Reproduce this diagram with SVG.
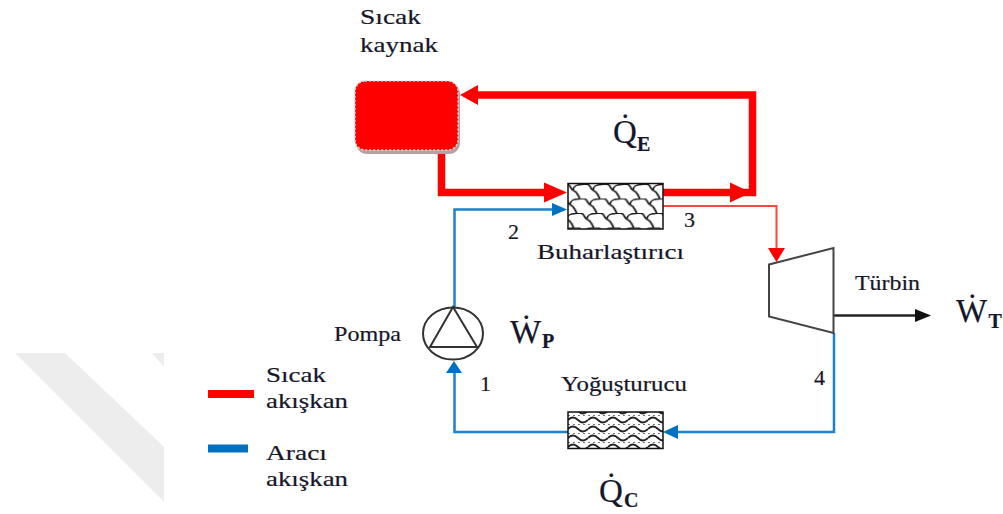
<svg xmlns="http://www.w3.org/2000/svg" width="1003" height="514" viewBox="0 0 1003 514">
<style>
text{font-family:"Liberation Serif","Times New Roman",serif;fill:#16162a;font-size:22px;stroke:#16162a;stroke-width:.2}
.q{font-size:33px}
.w{font-size:33px}
.s{font-size:20px;font-weight:bold}
.hot{fill:none;stroke:#f00;stroke-width:7.500}
.thin{fill:none;stroke:#f44;stroke-width:2}
.blue{fill:none;stroke:#1c80cc;stroke-width:2.500}
.hd{fill:#f00}
.bh{fill:#0070c0}
.eq{fill:none;stroke:#333;stroke-width:2}
</style>
<defs>
<pattern id="scale" width="20" height="14.500" patternUnits="userSpaceOnUse" patternTransform="translate(568 184) skewX(-12)">
<path d="M-2 0c5 0 5 5 9 6.500c4 1 5 5 8 8M18 0c5 0 5 5 9 6.500M-13 6.500c4 1 5 5 8 8M7 6.500c-1.500-2 0-5 3-5.500c3-.500 5-.500 8-1M27 6.500c-1.500-2 0-5 3-5.500M-13 6.500c-1.500-2 0-5 3-5.500c3-.500 5-.500 8-1" fill="none" stroke="#151515" stroke-width="1.600"/>
</pattern>
<pattern id="wave" width="20" height="9" patternUnits="userSpaceOnUse" patternTransform="translate(568 415)">
<path d="M0 5q5-5 10 0t10 0" fill="none" stroke="#222" stroke-width="1.800"/>
<path d="M0 0.500h20" fill="none" stroke="#777" stroke-width="1.200" stroke-dasharray="2 3"/>
</pattern>
</defs>
<g id="watermark" fill="#ededed" stroke="none">
<polygon points="15,353 65,353 164,447 164,502"/>
<polygon points="152,353 164,353 164,367"/>
</g>
<g id="connectors">
<path class="hot" d="M441.500 150V192.500H546"/>
<polygon class="hd" points="567,192.500 544,182.500 544,202.500"/>
<path class="hot" d="M663 192.500H752.500V95H476"/>
<polygon class="hd" points="751,192.500 730,182.500 730,202.500"/>
<polygon class="hd" points="460,95 478,85 478,105"/>
<path class="thin" d="M663 206H776.500V250"/>
<polygon class="hd" points="776.500,262 768,248 785,248"/>
<path class="blue" d="M454.500 307V209.500H555"/>
<polygon class="bh" points="567,209.500 552,203 552,216"/>
<path class="blue" d="M834 333V432H675"/>
<polygon class="bh" points="663,432 678,425 678,439"/>
<path class="blue" d="M568 432H454.500V370"/>
<polygon class="bh" points="454,361 446,373 462,373"/>
<path d="M834 315.500H918" fill="none" stroke="#222" stroke-width="2.500"/>
<polygon fill="#111" points="931,315.500 915,309 915,322"/>
</g>
<g id="source">
<rect x="356" y="83" width="104" height="71" rx="11" fill="#b9a0a0"/>
<rect x="355" y="81" width="103" height="69" rx="10" fill="#f00" stroke="#f3d0d0" stroke-width="1.500" stroke-dasharray="2 2"/>
<text x="360" y="24" textLength="61" lengthAdjust="spacingAndGlyphs">Sıcak</text>
<text x="360" y="52" textLength="78" lengthAdjust="spacingAndGlyphs">kaynak</text>
</g>
<g id="evaporator">
<rect x="568" y="183.500" width="95" height="45.500" fill="url(#scale)" stroke="#111" stroke-width="1.500"/>
<text x="537" y="259" textLength="147" lengthAdjust="spacingAndGlyphs">Buharlaştırıcı</text>
</g>
<g id="condenser">
<rect x="568" y="412" width="95" height="36.500" fill="url(#wave)" stroke="#111" stroke-width="1.500"/>
<text x="561" y="391" textLength="126" lengthAdjust="spacingAndGlyphs">Yoğuşturucu</text>
</g>
<g id="pump">
<ellipse class="eq" cx="453" cy="333.500" rx="30" ry="26"/>
<polygon class="eq" points="453,307 430,347 477,347"/>
<text x="334" y="341" textLength="67" lengthAdjust="spacingAndGlyphs">Pompa</text>
</g>
<g id="turbine">
<polygon points="769,264.500 833.500,248 833.500,333 769,316.500" fill="#fff" stroke="#444" stroke-width="2"/>
<text x="855" y="290" textLength="65" lengthAdjust="spacingAndGlyphs">Türbin</text>
</g>
<g id="labels">
<text x="613" y="143" class="q">Q̇<tspan x="637" y="151" class="s">E</tspan></text>
<text x="510" y="343" class="w">Ẇ<tspan x="542" y="348" class="s">P</tspan></text>
<text x="956" y="322" class="w">Ẇ<tspan x="988.500" y="328" class="s">T</tspan></text>
<text x="599" y="502" class="q">Q̇<tspan x="624" y="507" class="s">C</tspan></text>
<text x="508" y="239">2</text>
<text x="684" y="227">3</text>
<text x="480" y="391">1</text>
<text x="814" y="385">4</text>
</g>
<g id="legend">
<rect x="208" y="390" width="46" height="8" fill="#f00"/>
<rect x="208" y="444.500" width="40" height="8" fill="#0070c0"/>
<text x="266" y="382" textLength="60" lengthAdjust="spacingAndGlyphs">Sıcak</text>
<text x="266" y="408" textLength="82" lengthAdjust="spacingAndGlyphs">akışkan</text>
<text x="266" y="460" textLength="61" lengthAdjust="spacingAndGlyphs">Aracı</text>
<text x="266" y="486" textLength="82" lengthAdjust="spacingAndGlyphs">akışkan</text>
</g>
</svg>
